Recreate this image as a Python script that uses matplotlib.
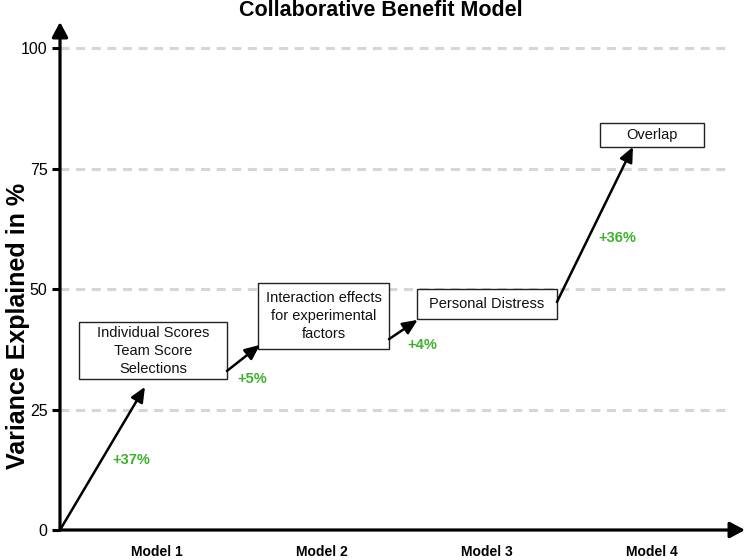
import matplotlib
matplotlib.use("Agg")
import matplotlib.pyplot as plt
from matplotlib.patches import Rectangle

plt.rcParams['font.family'] = ['Liberation Sans', 'DejaVu Sans']

# categories and values
models = ["Model 1", "Model 2", "Model 3", "Model 4"]
gains = ["+37%", "+5%", "+4%", "+36%"]
box_texts = ["Individual Scores\nTeam Score\nSelections",
             "Interaction effects\nfor experimental\nfactors",
             "Personal Distress",
             "Overlap"]
box_x = [0.976, 2.009, 3.0, 4.0]
box_y = [37.2, 44.4, 46.9, 82.0]
box_w = [0.897, 0.794, 0.848, 0.63]
box_h = [11.8, 13.7, 6.2, 5.0]

# arrow segments (start -> end)
arrow_x0 = [0.412, 1.424, 2.406, 3.424]
arrow_y0 = [0.0, 33.0, 39.6, 47.3]
arrow_x1 = [0.927, 1.624, 2.58, 3.885]
arrow_y1 = [29.7, 38.4, 43.6, 79.5]

# gain label positions
gain_x = [0.842, 1.576, 2.606, 3.788]
gain_y = [14.5, 31.3, 38.4, 60.6]

yticks = [0, 25, 50, 75, 100]

x_min, x_max = 0.412, 4.564
y_min, y_max = 0, 105.4

fig = plt.figure(figsize=(7.5, 5.6), dpi=100)
ax = fig.add_axes([60/750, 30/560, 685/750, 508/560])
ax.set_xlim(x_min, x_max)
ax.set_ylim(y_min, y_max)
for s in ax.spines.values():
    s.set_visible(False)

# gridlines
for yv in yticks[1:]:
    ax.plot([x_min, 4.455], [yv, yv], color='#d6d6d6', lw=2.2,
            ls=(0, (2.95, 2.16)), zorder=1, solid_capstyle='butt')

# axis arrows
axis_style = dict(arrowstyle='-|>,head_length=0.45,head_width=0.24',
                  mutation_scale=20, lw=2.3, color='black',
                  shrinkA=0, shrinkB=0)
ax.annotate('', xy=(x_min, y_max), xytext=(x_min, 0),
            arrowprops=axis_style, annotation_clip=False, zorder=5)
ax.annotate('', xy=(x_max, 0), xytext=(x_min, 0),
            arrowprops=axis_style, annotation_clip=False, zorder=5)

# step arrows
step_style = dict(arrowstyle='-|>,head_length=0.45,head_width=0.2',
                  mutation_scale=20, lw=1.8, color='black',
                  shrinkA=0, shrinkB=0)
for x0, y0, x1, y1 in zip(arrow_x0, arrow_y0, arrow_x1, arrow_y1):
    ax.annotate('', xy=(x1, y1), xytext=(x0, y0), arrowprops=step_style,
                zorder=4)

# boxes
for bx, by, bw, bh, txt in zip(box_x, box_y, box_w, box_h, box_texts):
    ax.add_patch(Rectangle((bx - bw/2, by - bh/2), bw, bh, facecolor='white',
                           edgecolor='#222222', lw=1.0, zorder=3))
    ax.text(bx, by, txt, ha='center', va='center', fontsize=10.5,
            color='#111111', linespacing=1.38, zorder=6)

# gain labels
for gx, gy, g in zip(gain_x, gain_y, gains):
    ax.text(gx, gy, g, ha='center', va='center', fontsize=10.5,
            fontweight='bold', color='#3cb32a', zorder=6)

ax.set_yticks(yticks)
ax.set_yticklabels([str(v) for v in yticks], fontsize=11.5)
ax.tick_params(axis='y', length=6, width=2.2, direction='out', pad=3)
ax.set_xticks(range(1, len(models) + 1))
ax.set_xticklabels(models, fontsize=10, fontweight='bold')
ax.tick_params(axis='x', length=0, pad=11)

fig.text(18/750, 1 - 326/560, "Variance Explained in %", rotation=90,
         ha='center', va='center', fontsize=18, fontweight='bold')

fig.text(380.5/750, 1 - 11/560, "Collaborative Benefit Model", ha='center',
         va='center', fontsize=15.5, fontweight='bold')

fig.savefig("out.png", dpi=100)
